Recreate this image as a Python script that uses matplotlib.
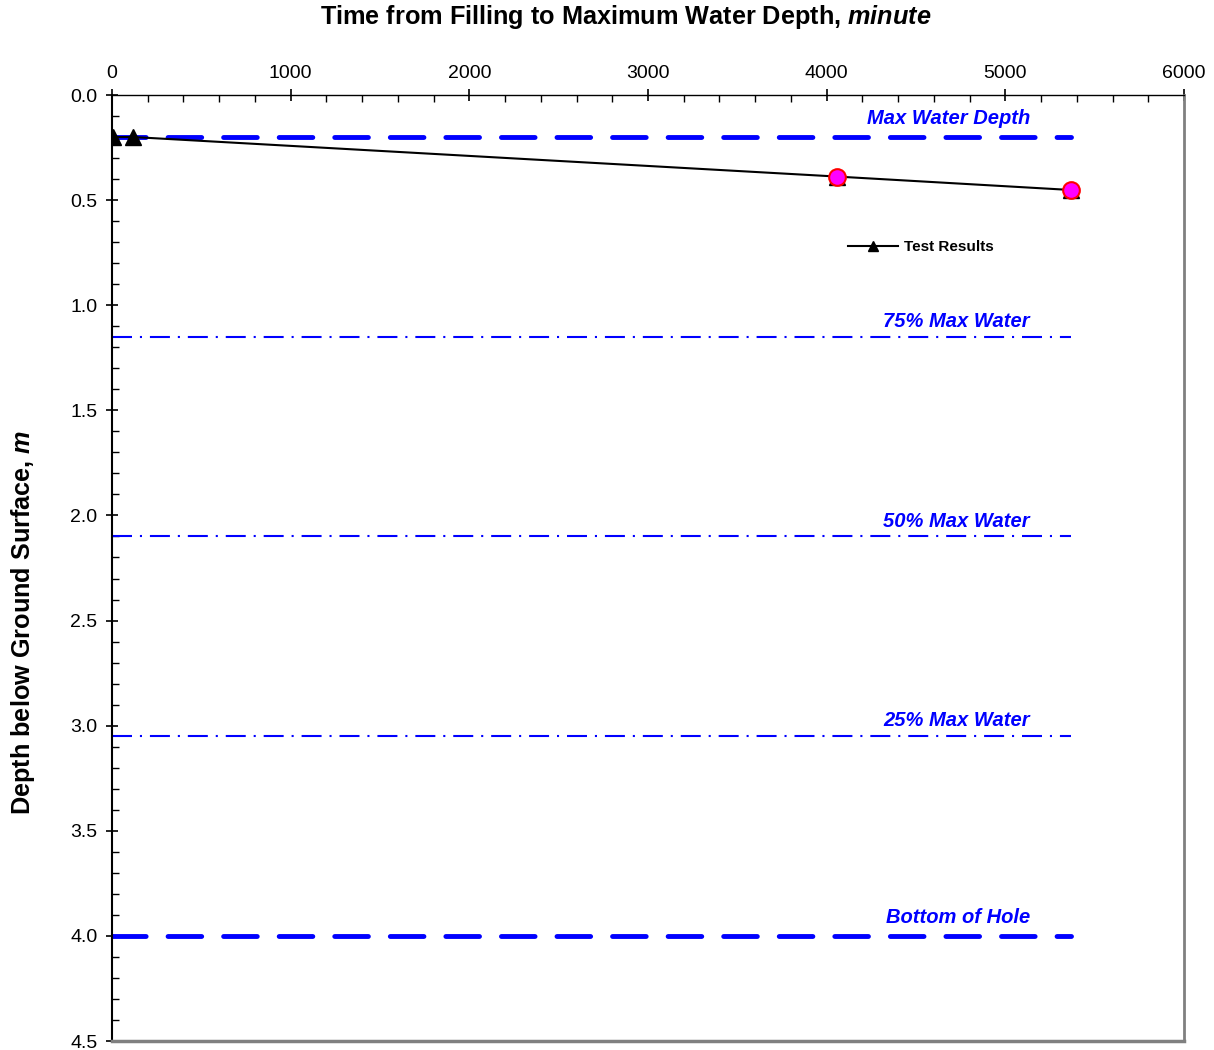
import matplotlib
matplotlib.use("Agg")
import matplotlib.pyplot as plt
from matplotlib.lines import Line2D
from matplotlib.ticker import MultipleLocator

plt.rcParams["font.family"] = ["Liberation Sans", "DejaVu Sans"]
plt.rcParams["mathtext.fontset"] = "custom"
plt.rcParams["mathtext.it"] = "Liberation Sans:italic:bold"
plt.rcParams["mathtext.rm"] = "Liberation Sans:bold"

# Infiltration test readings
time_min = [5, 120, 4058, 5370]
depth_m = [0.20, 0.20, 0.388, 0.452]
# Readings highlighted with circles
highlight_time = [4058, 5370]
highlight_depth = [0.388, 0.452]

# Reference levels
ref_labels = ["Max Water Depth", "75% Max Water", "50% Max Water", "25% Max Water", "Bottom of Hole"]
ref_depths = [0.20, 1.15, 2.10, 3.05, 4.00]
ref_thick = [True, False, False, False, True]
ref_extent = [0, 5370]
label_x = 5137

x_ticks = [0, 1000, 2000, 3000, 4000, 5000, 6000]
y_ticks = [0.0, 0.5, 1.0, 1.5, 2.0, 2.5, 3.0, 3.5, 4.0, 4.5]

blue = "#0000FF"

fig = plt.figure(figsize=(12.14, 10.50), dpi=100)
ax = fig.add_axes([112 / 1214, 1 - 1041 / 1050, (1184 - 112) / 1214, (1041 - 95) / 1050])

for lab, d, thick in zip(ref_labels, ref_depths, ref_thick):
    if thick:
        ln, = ax.plot(ref_extent, [d, d], color=blue, lw=3.5)
        ln.set_dashes((6.92, 4.51))
        ln.set_dash_capstyle("round")
        off = 9.5
    else:
        ln, = ax.plot(ref_extent, [d, d], color=blue, lw=1.5)
        ln.set_dashes((9.6, 3.8, 1.0, 3.8))
        off = 7.0
    ax.annotate(lab, xy=(label_x, d), xytext=(0, off), textcoords="offset points",
                ha="right", va="baseline", color=blue, fontsize=14.5,
                fontweight="bold", fontstyle="italic")

ax.plot(time_min, depth_m, color="black", lw=1.5, marker="^", markersize=11,
        markerfacecolor="black", markeredgecolor="black", zorder=4)
ax.plot(highlight_time, highlight_depth, ls="none", marker="o", markersize=12,
        markerfacecolor="#FF00FF", markeredgecolor="#FF0000", markeredgewidth=1.5, zorder=5)

handle = Line2D([], [], color="black", lw=1.5, marker="^", markersize=6.5)
ax.legend([handle], ["Test Results"], loc="center left",
          bbox_to_anchor=((848 - 112) / 1072, 1 - (247 - 95) / 946),
          frameon=False, borderpad=0, borderaxespad=0, handlelength=3.3,
          handletextpad=0.35, prop={"weight": "bold", "size": 11})

ax.set_xlim(0, 6000)
ax.set_ylim(4.5, 0.0)
ax.xaxis.tick_top()
ax.set_xticks(x_ticks)
ax.set_yticks(y_ticks)
ax.set_yticklabels([f"{v:.1f}" for v in y_ticks])
ax.xaxis.set_minor_locator(MultipleLocator(200))
ax.yaxis.set_minor_locator(MultipleLocator(0.1))
ax.tick_params(which="major", direction="inout", length=9, width=1.2, labelsize=14,
               colors="black")
ax.tick_params(axis="x", which="major", pad=5)
ax.tick_params(axis="y", which="major", pad=6)
ax.tick_params(which="minor", direction="in", length=5, width=1)
ax.tick_params(axis="x", which="both", top=True, bottom=False)

ax.spines["left"].set_color("black")
ax.spines["left"].set_linewidth(1.5)
ax.spines["top"].set_color("black")
ax.spines["top"].set_linewidth(1.0)
ax.spines["right"].set_color("#808080")
ax.spines["right"].set_linewidth(2.0)
ax.spines["bottom"].set_color("#808080")
ax.spines["bottom"].set_linewidth(2.5)

fig.text(626 / 1214, 1 - 17 / 1050, r"Time from Filling to Maximum Water Depth, $minute$",
         ha="center", va="center", fontsize=18.2, fontweight="bold")
fig.text(23 / 1214, 1 - 622 / 1050, r"Depth below Ground Surface, $m$",
         ha="center", va="center", rotation=90, fontsize=18.2, fontweight="bold")

fig.savefig("out.png", dpi=100)
